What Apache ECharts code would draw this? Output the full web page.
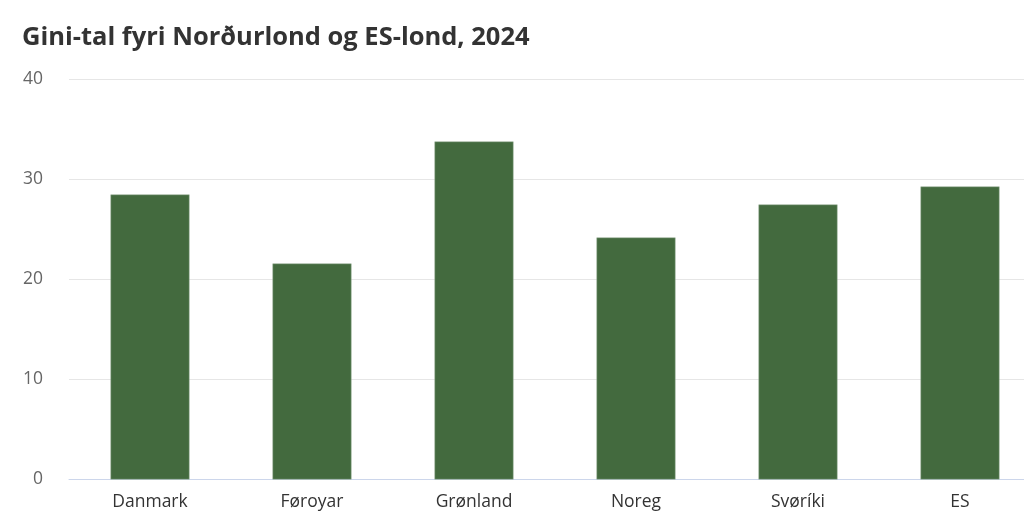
<!DOCTYPE html>
<html><head><meta charset="utf-8">
<script src="https://cdn.jsdelivr.net/npm/echarts@6/dist/echarts.min.js"></script>
<style>html,body{margin:0;padding:0;background:#fff;overflow:hidden}#c{width:1042px;height:530px}</style>
</head><body><div id="c"></div>
<script>
const categories = ['Danmark', 'Føroyar', 'Grønland', 'Noreg', 'Svøríki', 'ES'];
const giniValues = [28.5, 21.6, 33.8, 24.2, 27.5, 29.3];
const chartTitle = 'Gini-tal fyri Norðurlond og ES-lond, 2024';

const chart = echarts.init(document.getElementById('c'), null, {renderer: 'canvas'});
chart.setOption({
  animation: false,
  backgroundColor: '#ffffff',
  title: {
    text: chartTitle,
    left: 17, top: 20,
    textStyle: {fontFamily: 'Open Sans', fontWeight: 'bold', fontSize: 25.5, color: '#333333'}
  },
  grid: {left: 69, top: 79.5, width: 972, height: 400, containLabel: false},
  xAxis: {
    type: 'category',
    data: categories,
    axisLine: {show: true, lineStyle: {color: '#ccd6eb', width: 1}},
    axisTick: {show: false},
    axisLabel: {fontFamily: 'Open Sans', fontSize: 17.5, color: '#333333', margin: 14}
  },
  yAxis: {
    type: 'value',
    min: 0, max: 40, interval: 10,
    axisLine: {show: false},
    axisTick: {show: false},
    splitLine: {lineStyle: {color: '#e6e6e6', width: 1}},
    axisLabel: {fontFamily: 'Open Sans', fontSize: 17.5, color: '#666666', margin: 26}
  },
  series: [{
    type: 'bar',
    data: giniValues,
    barWidth: 79,
    itemStyle: {color: '#436a3e', borderColor: '#9cb39a', borderWidth: 0.5}
  }]
});
</script></body></html>
